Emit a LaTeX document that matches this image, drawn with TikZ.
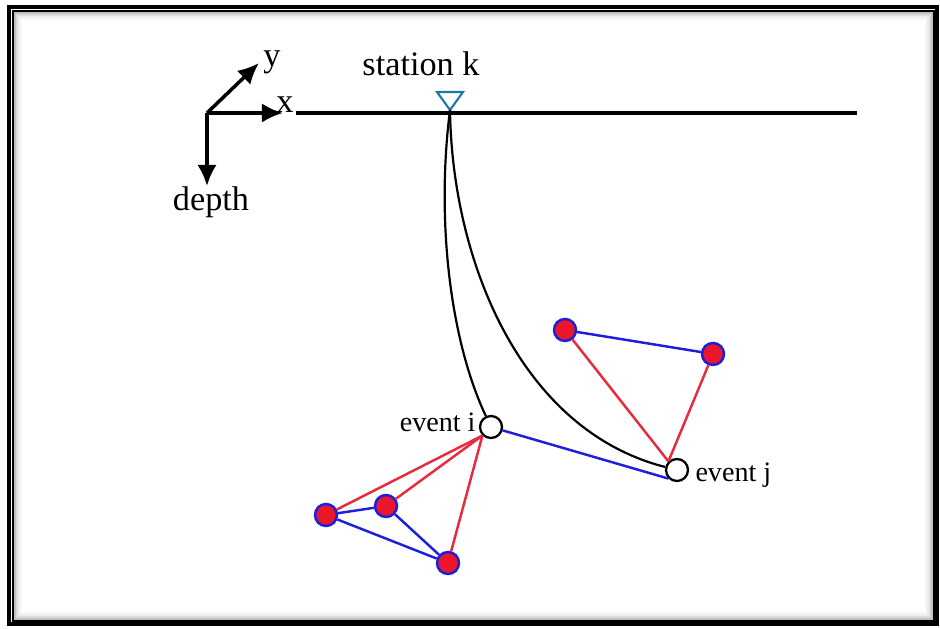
\documentclass[tikz,border=0pt]{standalone}
\usepackage{fontspec}
\setmainfont{Liberation Serif}
\usetikzlibrary{arrows.meta,positioning}
\definecolor{stablue}{RGB}{28,118,170}
\definecolor{pairblue}{RGB}{30,30,225}
\definecolor{pairred}{RGB}{232,42,62}
\definecolor{dotred}{RGB}{236,22,42}

\begin{document}
\begin{tikzpicture}[font=\fontsize{19.5}{22}\selectfont,
 ev/.style={circle,draw,line width=1.3pt,fill=white,minimum size=0.44cm,inner sep=0pt},
 dot/.style={circle,draw=pairblue,fill=dotred,line width=1.4pt,minimum size=0.44cm,inner sep=0pt},
 ray/.style={line width=1.25pt},
 bl/.style={draw=pairblue,line width=1.4pt},
 rd/.style={draw=pairred,line width=1.4pt},
 ax/.style={-{Latex[length=12pt,width=11pt]},line width=2pt},
 evlab/.style={font=\fontsize{16}{18}\selectfont,inner sep=0pt}]
\useasboundingbox (0,0) rectangle (18.8,12.56);
% frame with soft inner shadow
\foreach \d/\g in {0.04/25,0.08/14,0.12/7,0.16/3}
  \draw[black!\g,line width=0.04cm] (0.26+\d,0.14+\d) rectangle (18.68-\d,12.34-\d);
\draw[line width=0.08cm] (0.18,0.08) rectangle (18.74,12.42);
\draw[line width=0.03cm] (0.26,0.14) rectangle (18.68,12.34);
% surface and axes
\coordinate (sl) at (5.92,10.30);
\coordinate (sr) at (17.14,10.30);
\draw[line width=2.8pt] (sl)--(sr);
\coordinate (o) at (4.14,10.30);
\coordinate (xt) at (5.66,10.30);
\coordinate (yt) at (5.18,11.30);
\coordinate (dt) at (4.14,8.84);
\draw[ax] (o)--(xt);\draw[ax] (o)--(yt);\draw[ax] (o)--(dt);
\node (xl) at (5.70,10.46) {x};
\node (yl) at (5.44,11.32) {y};
\node (dl) at (4.22,8.51) {depth};
% station
\coordinate (stk) at (9.00,10.36);
\draw[stablue,line width=1.2pt,line join=miter] (8.74,10.72)--(9.26,10.72)--(stk)--cycle;
\node (stl) at (8.42,11.28) {station k};
% events
\node[ev] (ei) at (9.82,4.02) {};
\node[ev] (ej) at (13.54,3.16) {};
\node[evlab,anchor=base east] (eil) at ([xshift=-0.06cm,yshift=-0.1cm]ei.west) {event i};
\node[evlab,anchor=base west] (ejl) at ([xshift=0.12cm,yshift=-0.24cm]ej.east) {event j};
\draw[ray] (stk) .. controls (8.72,8.16) and (9.00,5.76) .. (ei);
\draw[ray] (stk) .. controls (9.04,7.36) and (10.40,3.96) .. (ej);
\draw[bl] (ei)--(ej.south west);
% neighbours of event i
\node[dot] (a1) at (6.52,2.26) {};
\node[dot] (a2) at (7.72,2.44) {};
\node[dot] (a3) at (8.96,1.30) {};
\draw[rd] (ei.south west)--(a1);\draw[rd] (ei.south west)--(a2);\draw[rd] (ei.south west)--(a3);
\draw[bl] (a1)--(a2);\draw[bl] (a2)--(a3);\draw[bl] (a1)--(a3);
% neighbours of event j
\node[dot] (b1) at (11.30,5.96) {};
\node[dot] (b2) at (14.26,5.48) {};
\draw[rd] (ej.north west)--(b1);\draw[rd] (ej.north west)--(b2);
\draw[bl] (b1)--(b2);
\end{tikzpicture}
\end{document}
